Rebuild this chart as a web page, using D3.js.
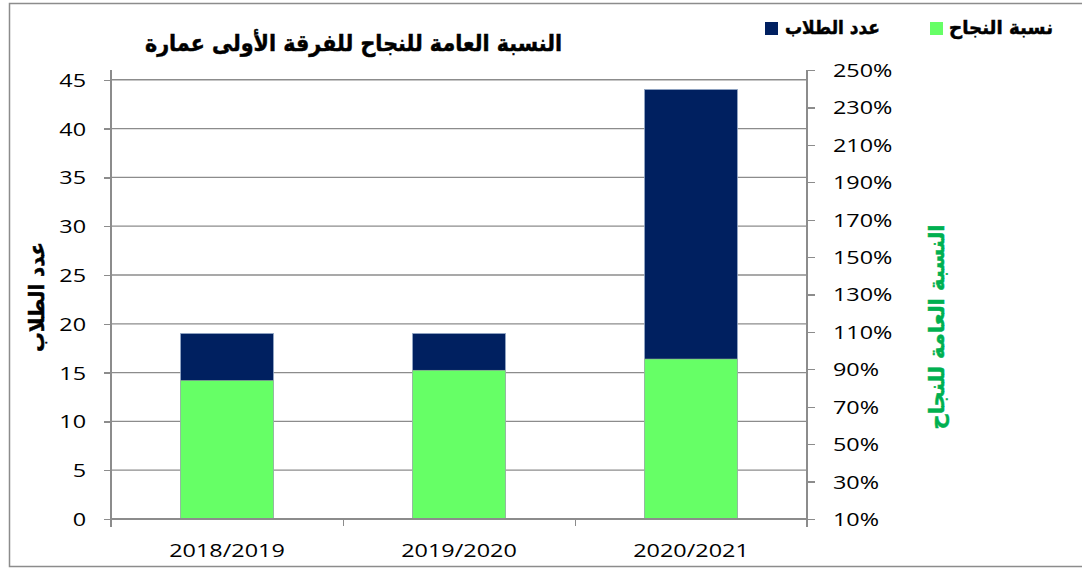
<!DOCTYPE html>
<meta charset='utf-8'>
<script src='https://d3js.org/d3.v7.min.js'></script>
<style>
body {margin:0; background:#fff;}
.grid line {stroke:#8c8c8c; stroke-width:1.3;}
.ax path, .ax line {stroke:#8c8c8c; stroke-width:1.3; shape-rendering:crispEdges;}
.num {font-family:'Open Sans',sans-serif; font-size:18px; fill:#000;}
.ar {font-family:'DejaVu Sans',sans-serif; font-weight:bold; stroke-width:0.5;}
</style>
<body>
<svg id='chart' width='1082' height='569'></svg>
<script>
// data
var years=['2018/2019','2019/2020','2020/2021'];
var students=[19,19,44];
var passRate=[84,89.5,95.5];
var leftTicks=[0,5,10,15,20,25,30,35,40,45];
var rightTicks=[10,30,50,70,90,110,130,150,170,190,210,230,250];

var x0=111,x1=807,yTop=70,yBot=519,sx=1.3;
var svg=d3.select('#chart');
svg.append('rect').attr('x',9.5).attr('y',3.5).attr('width',1080).attr('height',563)
   .attr('fill','#fff').attr('stroke','#8c8c8c').attr('stroke-width',1.5);

var yL=d3.scaleLinear().domain([0,46]).range([yBot,yTop]);
var yR=d3.scaleLinear().domain([10,250]).range([yBot,yTop]);
var xB=d3.scaleBand().domain(years).range([x0,x1]).paddingInner(0.6).paddingOuter(0.3);
var xEdge=d3.scaleLinear().domain([0,3]).range([x0,x1]);

// gridlines
svg.append('g').attr('class','grid').selectAll('line').data(leftTicks).enter().append('line')
   .attr('x1',x0).attr('x2',x1).attr('y1',function(d){return yL(d)}).attr('y2',function(d){return yL(d)});

// bars
svg.selectAll('.nav').data(years).enter().append('rect').attr('class','nav')
   .attr('x',function(d){return xB(d)}).attr('width',xB.bandwidth())
   .attr('y',function(d,i){return yL(students[i])}).attr('height',function(d,i){return yL(0)-yL(students[i])})
   .attr('fill','#002060').attr('stroke','#8ea3c2').attr('stroke-width',0.8);
svg.selectAll('.grn').data(years).enter().append('rect').attr('class','grn')
   .attr('x',function(d){return xB(d)}).attr('width',xB.bandwidth())
   .attr('y',function(d,i){return yR(passRate[i])}).attr('height',function(d,i){return yR(10)-yR(passRate[i])})
   .attr('fill','#66ff66').attr('stroke','#a0b4a0').attr('stroke-width',0.6);

// axes
var gl=svg.append('g').attr('class','ax').attr('transform','translate('+x0+',0)')
   .call(d3.axisLeft(yL).tickValues(leftTicks).tickSize(7).tickSizeOuter(0).tickFormat(''));
gl.select('.domain').remove();
gl.append('line').attr('x1',0).attr('x2',0).attr('y1',yTop).attr('y2',yBot+8);
gl.selectAll('.tick').append('text').attr('class','num').attr('text-anchor','end')
   .attr('transform','scale('+sx+',1)').attr('x',-25/sx).attr('dy','0.36em')
   .text(function(d){return d});

var gr=svg.append('g').attr('class','ax').attr('transform','translate('+x1+',0)')
   .call(d3.axisRight(yR).tickValues(rightTicks).tickSize(8).tickSizeOuter(0).tickFormat(''));
gr.select('.domain').remove();
gr.append('line').attr('x1',0).attr('x2',0).attr('y1',yTop).attr('y2',yBot+8);
gr.selectAll('.tick').append('text').attr('class','num').attr('text-anchor','start')
   .attr('transform','scale('+sx+',1)').attr('x',26/sx).attr('dy','0.36em')
   .text(function(d){return d+'%'});

var gb=svg.append('g').attr('class','ax').attr('transform','translate(0,'+yBot+')')
   .call(d3.axisBottom(xEdge).tickValues([0,1,2,3]).tickSize(7).tickSizeOuter(0).tickFormat(''));
gb.select('.domain').attr('d','M'+x0+',0H'+x1);
svg.selectAll('.xl').data(years).enter().append('text').attr('class','num xl')
   .attr('text-anchor','middle')
   .attr('transform',function(d){return 'translate('+(xB(d)+xB.bandwidth()/2)+',557) scale('+sx+',1)'})
   .text(function(d){return d});

// title + legend
svg.append('text').attr('class','ar').attr('x',353.5).attr('y',51).attr('text-anchor','middle')
   .attr('font-size',23).attr('stroke','#000').attr('textLength',417).attr('lengthAdjust','spacingAndGlyphs')
   .text('النسبة العامة للنجاح للفرقة الأولى عمارة');
svg.append('rect').attr('x',765).attr('y',22).attr('width',13).attr('height',13).attr('fill','#002060');
svg.append('text').attr('class','ar').attr('x',832.5).attr('y',34).attr('text-anchor','middle')
   .attr('font-size',19).attr('stroke','#000').attr('textLength',95).attr('lengthAdjust','spacingAndGlyphs').text('عدد الطلاب');
svg.append('rect').attr('x',930).attr('y',22).attr('width',13).attr('height',13).attr('fill','#66ff66');
svg.append('text').attr('class','ar').attr('x',1001).attr('y',34).attr('text-anchor','middle')
   .attr('font-size',19).attr('stroke','#000').attr('textLength',104).attr('lengthAdjust','spacingAndGlyphs').text('نسبة النجاح');

// axis titles
svg.append('text').attr('class','ar').attr('transform','translate(44,297) rotate(-90)')
   .attr('text-anchor','middle').attr('font-size',21).attr('stroke','#000').attr('textLength',110).attr('lengthAdjust','spacingAndGlyphs')
   .text('عدد الطلاب');
svg.append('text').attr('class','ar').attr('transform','translate(944,327) rotate(-90)')
   .attr('text-anchor','middle').attr('font-size',21).attr('fill','#00b050').attr('stroke','#00b050')
   .attr('textLength',205).attr('lengthAdjust','spacingAndGlyphs').text('النسبة العامة للنجاح');
</script>
</body>
